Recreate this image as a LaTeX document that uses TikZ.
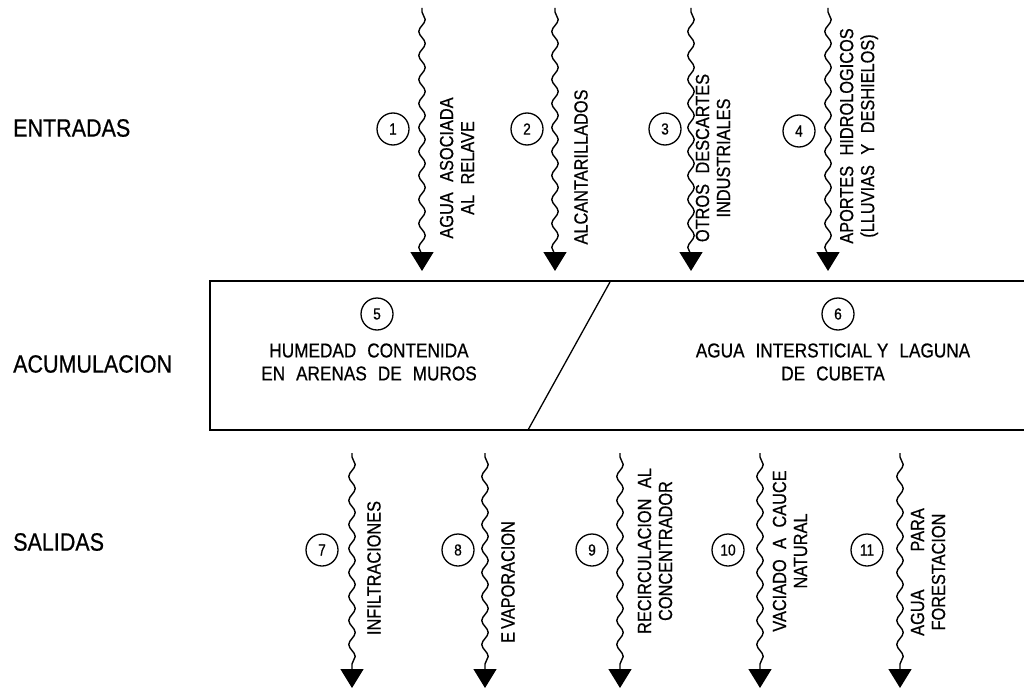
\documentclass[tikz,border=0pt]{standalone}
\usepackage{fontspec}
\setmainfont{Liberation Sans}[FakeStretch=0.86,FakeBold=0.6]
\usetikzlibrary{decorations.pathmorphing,arrows.meta}
\newcommand\gp{\hspace{0.55em}}
\tikzset{
  wave/.style={line width=1.4pt, decorate,
    decoration={snake, amplitude=3.2pt, segment length=24pt, pre length=4pt, post length=16pt},
    -{Triangle[width=23pt,length=19pt]}},
  num/.style={circle, draw, line width=1.3pt, minimum size=32pt, inner sep=0pt,
    font=\fontsize{16}{16}\selectfont},
  vlab/.style={rotate=90, align=center, inner sep=0pt,
    font=\fontsize{19}{21}\selectfont},
  blab/.style={align=center, inner sep=0pt, font=\fontsize{20}{23}\selectfont},
  side/.style={anchor=west, inner sep=0pt, font=\fontsize{25}{25}\selectfont},
  boxline/.style={line width=1.9pt}
}
\begin{document}
\begin{tikzpicture}[x=1pt,y=-1pt]
\useasboundingbox (0,0) rectangle (1024,690);
% side labels
\node[side] (ent) at (13,128) {ENTRADAS};
\node[side] (acu) at (13,364) {ACUMULACION};
\node[side] (sal) at (13,542) {SALIDAS};
% box
\coordinate (bTR) at (1030,281);
\coordinate (bTL) at (210,281);
\coordinate (bBL) at (210,430);
\coordinate (bBR) at (1030,430);
\draw[boxline] (bTR) -- (bTL) -- (bBL) -- (bBR);
\coordinate (dT) at (610,282);
\coordinate (dB) at (528,430);
\draw[line width=1.3pt] (dT) -- (dB);
\node[num] (n5) at (377,314) {5};
\node[num] (n6) at (838,314) {6};
\node[blab] (t5) at (369,362) {HUMEDAD\gp CONTENIDA\\EN\gp ARENAS\gp DE\gp MUROS};
\node[blab] (t6) at (833,362) {AGUA\gp INTERSTICIAL Y\gp LAGUNA\\DE\gp CUBETA};
% inputs
\foreach \i/\x in {1/422,2/555,3/691,4/828}{
  \coordinate (is\i) at (\x,8);
  \coordinate (ie\i) at (\x,271);
  \draw[wave] (is\i) -- (ie\i);
}
\node[num] (n1) at (393,129) {1};
\node[num] (n2) at (527,129) {2};
\node[num] (n3) at (665,129) {3};
\node[num] (n4) at (799,131) {4};
\node[vlab] (t1) at (457,168) {AGUA\gp ASOCIADA\\AL\gp RELAVE};
\node[vlab] (t2) at (581,167) {ALCANTARILLADOS};
\node[vlab] (t3) at (713,158) {OTROS\gp DESCARTES\\INDUSTRIALES};
\node[vlab] (t4) at (859,136) {APORTES\gp HIDROLOGICOS\\(LLUVIAS\gp Y\gp DESHIELOS)};
% outputs
\foreach \i/\x in {7/352,8/485,9/620,10/760,11/900}{
  \coordinate (os\i) at (\x,453);
  \coordinate (oe\i) at (\x,688);
  \draw[wave] (os\i) -- (oe\i);
}
\node[num] (n7) at (322,550) {7};
\node[num] (n8) at (458,550) {8};
\node[num] (n9) at (592,550) {9};
\node[num] (n10) at (728,550) {10};
\node[num] (n11) at (867,550) {11};
\node[vlab] (t7) at (374,568) {INFILTRACIONES};
\node[vlab] (t8) at (508,582) {E\,VAPORACION};
\node[vlab] (t9) at (655,551) {RECIRCULACION\gp AL\\CONCENTRADOR};
\node[vlab] (t10) at (790,551) {VACIADO\gp A\gp CAUCE\\NATURAL};
\node[vlab] (t11) at (928,572) {AGUA\hspace{2em}PARA\\FORESTACION};
\end{tikzpicture}
\end{document}
